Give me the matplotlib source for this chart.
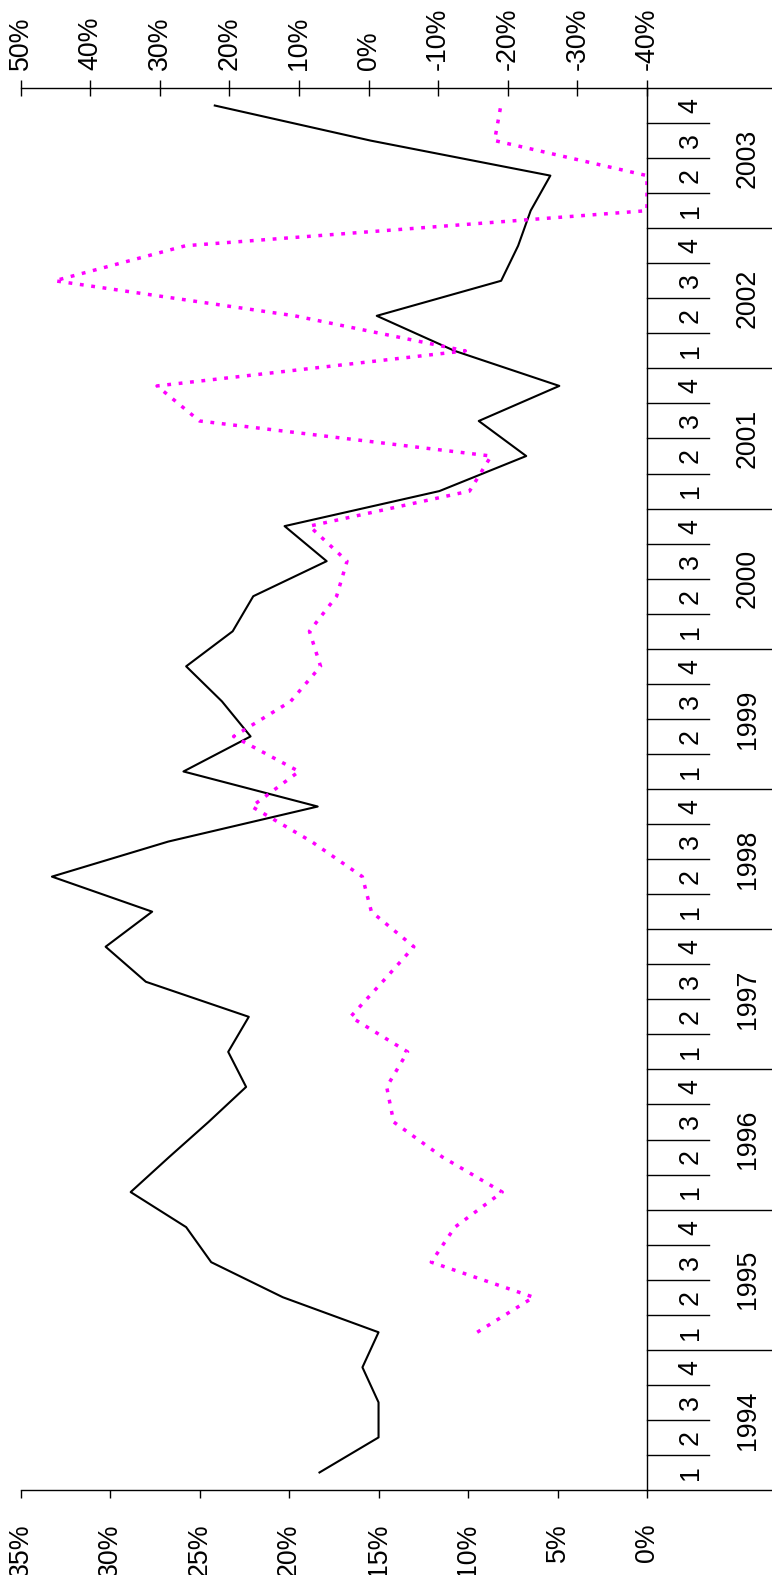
import matplotlib.pyplot as plt
import numpy as np

plt.rcParams['font.family'] = ['Liberation Sans', 'DejaVu Sans']

# quarterly data, 1994 Q1 .. 2003 Q4
years = ['1994', '1995', '1996', '1997', '1998', '1999', '2000', '2001', '2002', '2003']
quarters = ['1', '2', '3', '4']

# black line, read on the 0%..35% axis
black = [18.3, 15.0, 15.0, 15.9,
         15.0, 20.35, 24.35, 25.75,
         28.85, 26.7, 24.5, 22.4,
         23.4, 22.25, 28.0, 30.25,
         27.65, 33.25, 26.75, 18.4,
         25.9, 22.15, 23.75, 25.75,
         23.15, 22.0, 17.9, 20.25,
         11.6, 6.75, 9.4, 4.9,
         10.75, 15.1, 8.15, 7.2,
         6.5, 5.4, 15.45, 24.15]

# magenta dotted line, read on the -40%..50% axis, starts 1995 Q1
magenta = [-15.6, -23.7, -9.0, -12.4,
           -19.2, -10.6, -3.6, -2.6,
           -5.6, 2.6, -2.0, -6.5,
           -0.4, 0.9, 8.2, 16.8,
           10.0, 19.4, 11.2, 6.9,
           8.5, 4.6, 3.1, 8.5,
           -14.5, -17.6, 24.3, 30.4,
           -13.9, 10.6, 45.1, 26.3,
           -40.0, -40.0, -18.1, -19.0]

fs = 19.3
W, H = 772, 1575
x0, x1 = 20.6, 647
y_top, y_bot = 88, 1490

fig = plt.figure(figsize=(W / 100, H / 100), dpi=100)
ax = fig.add_axes([x0 / W, 1 - y_bot / H, (x1 - x0) / W, (y_bot - y_top) / H])

t = np.arange(len(black))
ax.plot(black, t, color='black', lw=1.5)
ax.set_xlim(35, 0)
ax.set_ylim(-0.5, 39.5)

ax2 = ax.twiny()
ax2.plot(magenta, t[4:], color='#ff00ff', lw=2.5, ls=(0, (1.1, 2.2)))
ax2.set_xlim(50, -40)
ax2.set_ylim(-0.5, 39.5)

for s in ['left', 'top']:
    ax.spines[s].set_visible(False)
for s in ['left', 'right', 'bottom']:
    ax2.spines[s].set_visible(False)
for a in (ax, ax2):
    for s in a.spines.values():
        s.set_linewidth(1.0)

ax.set_yticks([])
ax.set_xticks(range(0, 36, 5))
ax.set_xticklabels([f'{v}%' for v in range(0, 36, 5)])
ax.tick_params(axis='x', direction='out', length=6, width=1.0, pad=18,
               labelsize=fs, labelrotation=90)

ax2.set_xticks(range(-40, 51, 10))
ax2.set_xticklabels([f'{v}%' for v in range(-40, 51, 10)])
ax2.tick_params(axis='x', direction='inout', length=12, width=1.0, pad=7,
                labelsize=fs, labelrotation=90)

# extend horizontal axes under the category labels
ax.plot([1, 1.2], [0, 0], transform=ax.transAxes, color='black', lw=1.0, clip_on=False)
ax.plot([1, 1.2], [1, 1], transform=ax.transAxes, color='black', lw=1.0, clip_on=False)

# category axis: quarter and year separators and labels
tr = ax.get_yaxis_transform()
for k in range(1, 40):
    xe = 1.2 if k % 4 == 0 else 1.099
    ax.plot([1, xe], [k - 0.5, k - 0.5], transform=tr, color='black', lw=1.0, clip_on=False)
for i in range(40):
    ax.text(1.070, i, quarters[i % 4], transform=tr, rotation=90,
            ha='center', va='center', fontsize=fs)
for j, yr in enumerate(years):
    ax.text(1.161, 4 * j + 1.5, yr, transform=tr, rotation=90,
            ha='center', va='center', fontsize=fs)

fig.savefig('out.png', dpi=100)
